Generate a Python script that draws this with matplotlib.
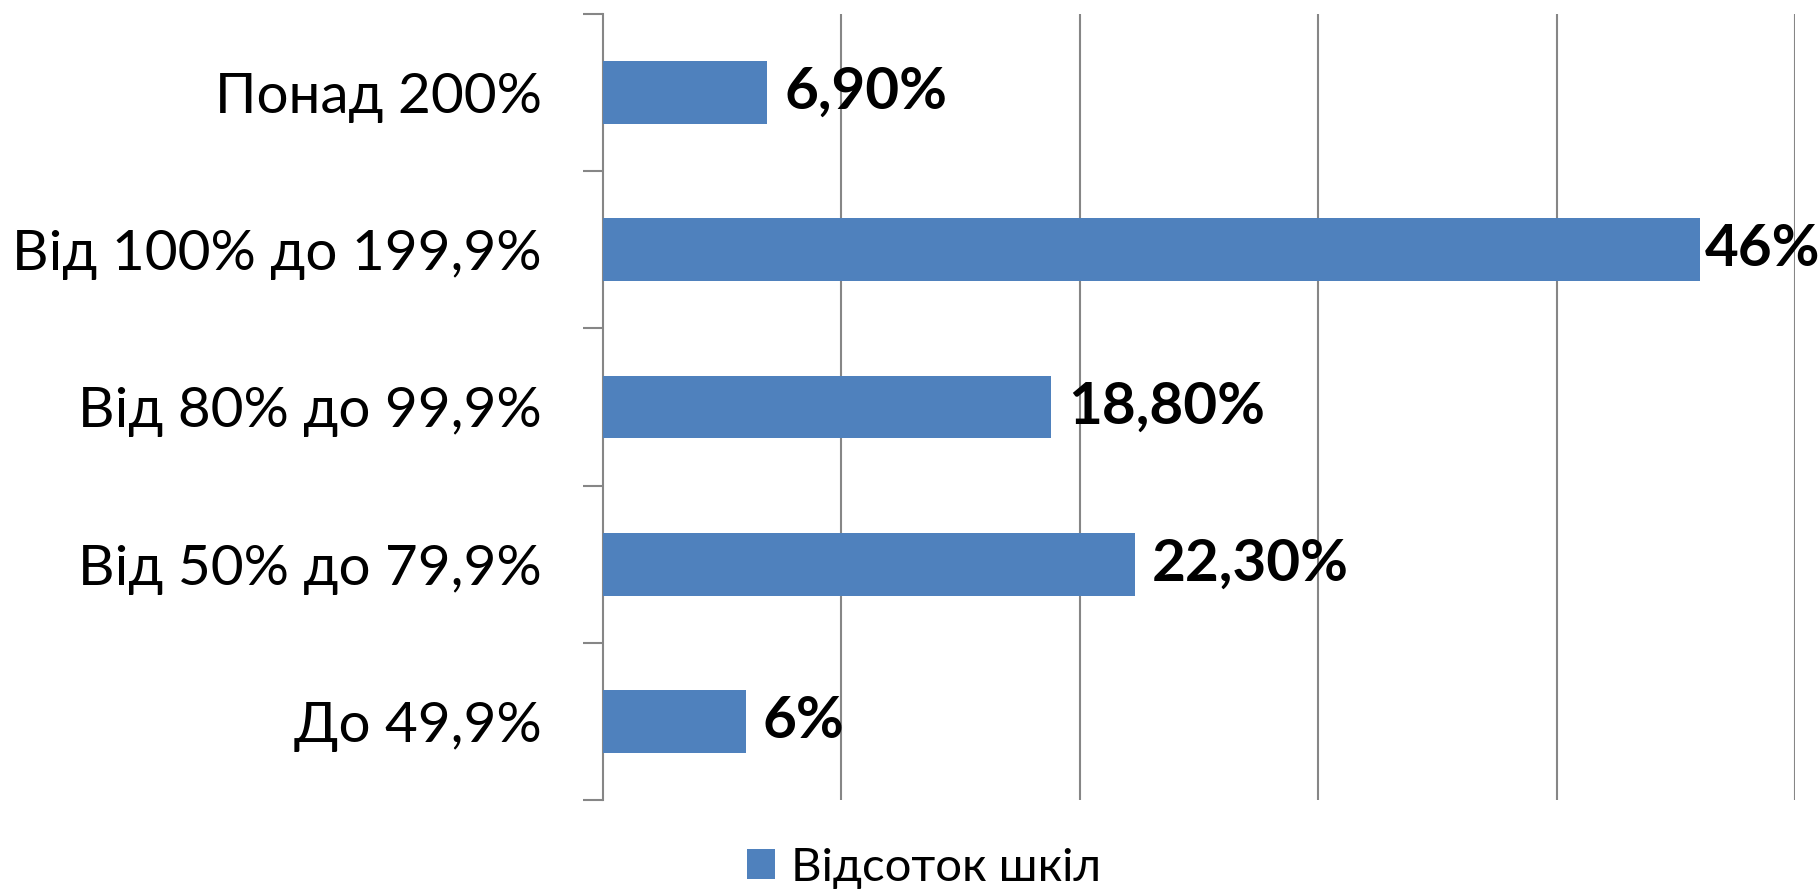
import matplotlib
matplotlib.use("Agg")
import matplotlib.pyplot as plt
from matplotlib.patches import Patch
import numpy as np

categories = ["До 49,9%", "Від 50% до 79,9%", "Від 80% до 99,9%", "Від 100% до 199,9%", "Понад 200%"]
values = [6.0, 22.3, 18.8, 46.0, 6.9]
value_labels = ["6%", "22,30%", "18,80%", "46%", "6,90%"]
series_name = "Відсоток шкіл"

plt.rcParams['font.family'] = ['Lato', 'Open Sans', 'DejaVu Sans']

W, H = 1820, 894
fig = plt.figure(figsize=(W/100, H/100), dpi=100)
ax = fig.add_axes([603/W, 1-800/H, (1795-603)/W, (800-14)/H])

bar_color = "#4F81BD"
grid_color = "#868686"
y = np.arange(len(categories))
ax.barh(y, values, height=0.4, color=bar_color, zorder=3)

ax.set_xlim(0, 50)
ax.set_ylim(-0.5, len(categories)-0.5)
ax.set_xticks([10, 20, 30, 40, 50])
ax.tick_params(axis='x', length=0, labelbottom=False)
ax.grid(axis='x', color=grid_color, linewidth=1.5, zorder=0)

ax.set_yticks(y)
ax.set_yticklabels(categories, fontsize=40.8)
ax.tick_params(axis='y', which='major', length=0, pad=44)
ax.set_yticks(np.arange(-0.5, len(categories)), minor=True)
ax.tick_params(axis='y', which='minor', length=14.4, width=1.5, color=grid_color)

for s in ['top', 'right', 'bottom']:
    ax.spines[s].set_visible(False)
ax.spines['left'].set_color(grid_color)
ax.spines['left'].set_linewidth(1.5)

offsets = [12, 12, 12, 4, 12]
for yi, v, lab, off in zip(y, values, value_labels, offsets):
    ax.annotate(lab, xy=(v, yi), xytext=(off, 0), textcoords='offset points',
                ha='left', va='center', fontsize=42, fontweight='bold', color='black')

handle = Patch(facecolor=bar_color, edgecolor='none')
fig.legend([handle], [series_name], loc='center', bbox_to_anchor=(924/W, 1-868/H),
           frameon=False, fontsize=34, handlelength=0.6, handleheight=0.6,
           handletextpad=0.35, borderpad=0)

fig.savefig("out.png", dpi=100)
